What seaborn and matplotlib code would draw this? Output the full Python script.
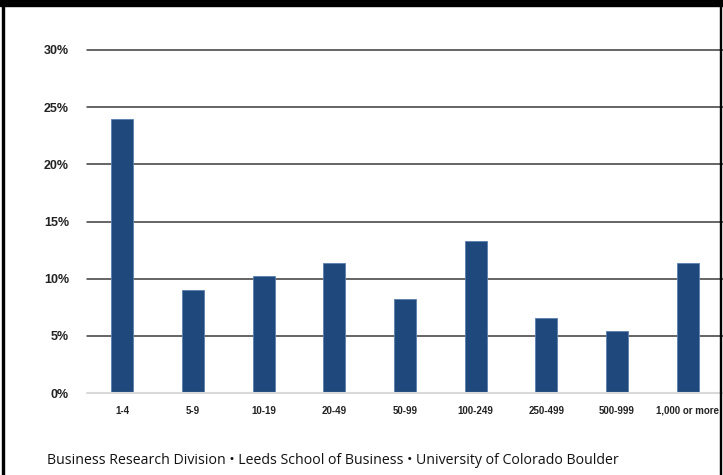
import matplotlib
matplotlib.use("Agg")
import matplotlib.pyplot as plt
import matplotlib.patches as mpatches
import seaborn as sns
import pandas as pd

categories = ["1-4", "5-9", "10-19", "20-49", "50-99", "100-249", "250-499", "500-999", "1,000 or more"]
shares = [24.0, 9.0, 10.2, 11.4, 8.2, 13.3, 6.6, 5.4, 11.4]
yticks = [0, 5, 10, 15, 20, 25, 30]
footer = "Business Research Division \u2022 Leeds School of Business \u2022 University of Colorado Boulder"

df = pd.DataFrame({"size": categories, "share": shares})

sns.set_theme(style="white")
plt.rcParams['font.family'] = ['Liberation Sans Narrow', 'Liberation Sans', 'DejaVu Sans']

fig = plt.figure(figsize=(7.23, 4.75), dpi=100)
ax = fig.add_axes([87/723, 1-393/475, (723-87)/723, (393-50)/475])

sns.barplot(data=df, x="size", y="share", color="#1f497d", width=0.31,
            edgecolor="#5a7fae", linewidth=0.6, ax=ax, saturation=1, zorder=3)

ax.set_ylim(0, 30)
ax.set_xlim(-0.5, len(categories) - 0.5)
ax.set_yticks(yticks)
ax.set_yticklabels([f"{v}%" for v in yticks], fontsize=9, fontweight="bold", color="#222222")
ax.set_xticks(range(len(categories)))
ax.set_xticklabels(categories, fontsize=7, fontweight="bold", color="#222222")
ax.tick_params(axis="y", length=0, pad=13)
ax.tick_params(axis="x", length=0, pad=9)
for v in yticks[1:]:
    ax.axhline(v, color="#3a3a3a", linewidth=1.1, zorder=1, clip_on=False)
ax.axhline(0, color="#d9d9d9", linewidth=1.5, zorder=4, clip_on=False)
for s in ax.spines.values():
    s.set_visible(False)
ax.set_xlabel("")
ax.set_ylabel("")

# frame
fig.patches.append(mpatches.Rectangle((0, 1-6/475), 1, 6/475, transform=fig.transFigure,
                                      color="black", zorder=10))
fig.patches.append(mpatches.Rectangle((2/723, 0), 1.5/723, 1, transform=fig.transFigure,
                                      color="black", zorder=10))
fig.patches.append(mpatches.Rectangle((719.5/723, 0), 1.5/723, 1, transform=fig.transFigure,
                                      color="black", zorder=10))

fig.text(47/723, 1-460/475, footer, fontsize=10.2, color="#111111",
         family=['Open Sans', 'DejaVu Sans'], va="center", ha="left")

fig.savefig("out.png", dpi=100)
